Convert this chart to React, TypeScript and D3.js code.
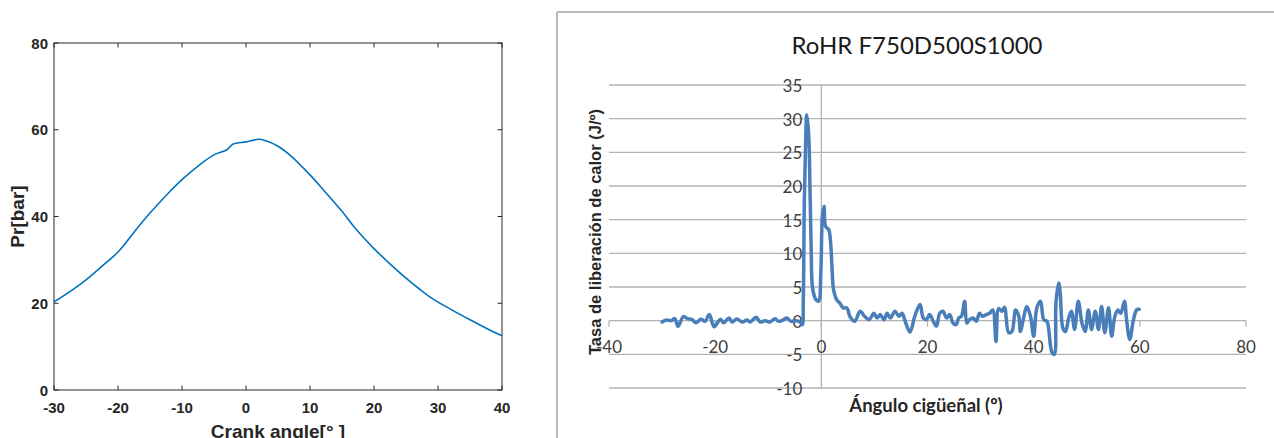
import * as d3 from "d3";
import { useRef, useEffect } from "react";

// left panel: cylinder pressure vs crank angle
const crank_angle = [-30, -27, -25, -22, -20, -17, -15, -12, -10, -7, -5, -3, -2, 0, 2, 3, 5, 7, 10, 12, 15, 17, 20, 23, 25, 27, 29, 32, 35, 38, 40];
const pressure_bar = [20.3, 23.2, 25.4, 29.2, 31.8, 37.3, 40.8, 45.6, 48.5, 52.2, 54.2, 55.4, 56.7, 57.2, 57.8, 57.5, 56.2, 54, 49.6, 46.3, 41.2, 37.4, 32.6, 28.4, 25.8, 23.4, 21.2, 18.6, 16.2, 13.9, 12.5];
const pr_x_ticks = [-30, -20, -10, 0, 10, 20, 30, 40];
const pr_y_ticks = [0, 20, 40, 60, 80];

// right panel: rate of heat release
const rohr_angle = [
  -30, -29.2, -28.3, -27.6, -27, -26, -25.2, -24.4, -23.6, -22.7, -21.9, -21.1, -20.2, -19, -18.4, -17.4,
  -16.8, -15.9, -14.9, -14, -13.4, -12.3, -11.5, -10.6, -9.7, -8.7, -8.1, -7.2, -6.5, -5.7, -4.8, -4,
  -3.6, -3.4, -3.2, -2.95, -2.75, -2.4, -2.1, -1.9, -1.7, -1.3, -1, -0.5, -0.1, 0.2, 0.5, 0.8, 1.4, 1.7,
  2, 2.3, 2.9, 3.5, 4.1, 4.8, 5.4, 6.3, 7.3, 8.2, 9, 9.9, 10.5, 11.1, 11.8, 12.4, 13, 13.9, 14.6, 15.2,
  15.8, 16.7, 17.6, 18.6, 19.2, 19.8, 20.4, 21.1, 21.7, 22.3, 22.9, 23.6, 24.2, 24.8, 25.4, 25.9, 26.4,
  27, 27.4, 27.9, 28.6, 29.2, 29.8, 30.4, 31.1, 31.7, 32.3, 32.9, 33.4, 34, 34.5, 35.3, 35.9, 36.6, 37.2,
  37.5, 38.1, 38.7, 39.4, 40, 40.6, 41.3, 41.9, 42.5, 43.4, 43.9, 44.2, 44.7, 45, 45.5, 46, 46.6, 47.1,
  47.7, 48.4, 49.1, 49.7, 50.3, 50.9, 51.6, 52.2, 52.8, 53.4, 54.1, 54.7, 55.3, 55.9, 56.4, 57.1, 57.5,
  58.1, 58.8, 59.4, 59.9,
];
const rohr_value = [
  -0.2, 0.1, 0, 0.3, -0.85, 0.6, 0.3, 0.2, -0.3, 0.2, -0.1, 0.9, -0.9, 0.2, -0.3, 0.4,
  -0.2, 0.25, -0.2, 0.1, -0.2, 0.5, -0.2, 0, -0.2, 0.3, -0.1, 0.1, 0.4, -0.1, 0, -0.2,
  -0.6, 3.1, 18, 27, 30.6, 27.9, 18, 10, 5.1, 3.6, 3.1, 2.9, 7.1, 15.5, 17, 14, 13.5, 12,
  8.1, 4.6, 3.1, 2.6, 1.9, 1.9, 0.6, -0.1, 1.4, 0.6, 0.15, 1.1, 0.4, 0.9, 0.15, 1.1, 0.4, 1.4, 0.65, 1.1,
  -0.1, -1.7, 0.65, 2.4, 0.4, 0.15, 0.9, -0.1, -0.8, 1.1, 1.4, 0.4, 0.9, -0.35, -0.6, 0.4, 0.65,
  2.9, -0.35, 0.15, 0.4, -0.1, 1.1, 0.65, 0.9, 1.1, 1.6, -3.1, 1.8, 1.4, 2, -1.8, -1.6, 1.6, 0.65,
  -1.6, 0.4, 2.1, 0.65, -2.3, 1.9, 2.9, 0.15, -0.1, -4.6, -5, 2.6, 5.6, 4.1, -1.1, -1.6, 0.4, 1.4,
  -1.3, 2.9, -0.35, -1.6, 1.6, -1.3, 1.4, -1.3, 2.1, -1.8, 1.9, -2.3, 0.65, 1.6, 1.1, 2.9, 0.15,
  -2.8, 0.15, 1.6, 1.7,
];
const rohr_x_ticks = [-40, -20, 0, 20, 40, 60, 80];
const rohr_y_ticks = [-10, -5, 0, 5, 10, 15, 20, 25, 30, 35];

const App = () => {
  const container = useRef(null);
  useEffect(() => {
    createChart();
  });

  const createChart = () => {
    let node = container.current;

    let svg = d3
      .select(node)
      .selectAll("svg")
      .data([0])
      .join("svg")
      .attr("width", 1274)
      .attr("height", 438)
      .style("position", "absolute")
      .style("left", 0)
      .style("top", 0)
      .style("background", "#fff");

    svg.selectAll("*").remove();

    // ---- left: matlab style pressure plot ----
    let pr = { l: 54, r: 502, t: 43, b: 390 };
    let ink = "#262626";

    let xPr = d3.scaleLinear().domain([-30, 40]).range([pr.l, pr.r]);
    let yPr = d3.scaleLinear().domain([0, 80]).range([pr.b, pr.t]);

    let left_g = svg.append("g").attr("class", "pr-g");

    left_g
      .append("rect")
      .attr("x", pr.l)
      .attr("y", pr.t)
      .attr("width", pr.r - pr.l)
      .attr("height", pr.b - pr.t)
      .attr("fill", "none")
      .attr("stroke", ink)
      .attr("stroke-width", 1);

    // inward ticks on all four sides
    let tick_len = 4.5;
    pr_x_ticks.forEach((t) => {
      left_g.append("line").attr("x1", xPr(t)).attr("x2", xPr(t)).attr("y1", pr.b).attr("y2", pr.b - tick_len).attr("stroke", ink);
      left_g.append("line").attr("x1", xPr(t)).attr("x2", xPr(t)).attr("y1", pr.t).attr("y2", pr.t + tick_len).attr("stroke", ink);
    });
    pr_y_ticks.forEach((t) => {
      left_g.append("line").attr("x1", pr.l).attr("x2", pr.l + tick_len).attr("y1", yPr(t)).attr("y2", yPr(t)).attr("stroke", ink);
      left_g.append("line").attr("x1", pr.r).attr("x2", pr.r - tick_len).attr("y1", yPr(t)).attr("y2", yPr(t)).attr("stroke", ink);
    });

    left_g
      .selectAll(".pr-xlabel")
      .data(pr_x_ticks)
      .join("text")
      .attr("class", "pr-xlabel")
      .attr("x", (d) => xPr(d))
      .attr("y", 413)
      .attr("text-anchor", "middle")
      .style("font-family", "'Liberation Sans', Arial, sans-serif")
      .style("font-weight", "bold")
      .style("font-size", "15px")
      .attr("fill", ink)
      .text((d) => d);

    left_g
      .selectAll(".pr-ylabel")
      .data(pr_y_ticks)
      .join("text")
      .attr("class", "pr-ylabel")
      .attr("x", pr.l - 6)
      .attr("y", (d) => yPr(d) + 5.5)
      .attr("text-anchor", "end")
      .style("font-family", "'Liberation Sans', Arial, sans-serif")
      .style("font-weight", "bold")
      .style("font-size", "15px")
      .attr("fill", ink)
      .text((d) => d);

    left_g
      .append("text")
      .attr("transform", `translate(24, ${(pr.t + pr.b) / 2}) rotate(-90)`)
      .attr("text-anchor", "middle")
      .style("font-family", "'Liberation Sans', Arial, sans-serif")
      .style("font-weight", "bold")
      .style("font-size", "19px")
      .attr("fill", ink)
      .text("Pr[bar]");

    // the reference crops this label at the bottom edge
    left_g
      .append("text")
      .attr("x", (pr.l + pr.r) / 2)
      .attr("y", 438)
      .attr("text-anchor", "middle")
      .style("font-family", "'Liberation Sans', Arial, sans-serif")
      .style("font-weight", "bold")
      .style("font-size", "19px")
      .attr("fill", ink)
      .text("Crank angle[° ]");

    let pressure = crank_angle.map((a, i) => ({ a: a, p: pressure_bar[i] }));
    left_g
      .append("path")
      .datum(pressure)
      .attr("fill", "none")
      .attr("stroke", "#0072BD")
      .attr("stroke-width", 1.6)
      .attr(
        "d",
        d3
          .line()
          .curve(d3.curveCatmullRom.alpha(0.5))
          .x((d) => xPr(d.a))
          .y((d) => yPr(d.p))
      );

    // ---- right: excel style RoHR plot ----
    let frame = "#a6a6a6";
    let grid = "#b3b3b3";
    let label_ink = "#404040";

    let right_g = svg.append("g").attr("class", "rohr-g");

    right_g.append("line").attr("x1", 557).attr("x2", 1274).attr("y1", 12).attr("y2", 12).attr("stroke", frame).attr("stroke-width", 1.5);
    right_g.append("line").attr("x1", 557).attr("x2", 557).attr("y1", 12).attr("y2", 438).attr("stroke", frame).attr("stroke-width", 1.5);

    let xR = d3.scaleLinear().domain([-40, 80]).range([609, 1246]);
    let yR = d3.scaleLinear().domain([-10, 35]).range([388, 85]);

    right_g
      .selectAll(".rohr-grid")
      .data(rohr_y_ticks)
      .join("line")
      .attr("class", "rohr-grid")
      .attr("x1", xR(-40))
      .attr("x2", xR(80))
      .attr("y1", (d) => yR(d))
      .attr("y2", (d) => yR(d))
      .attr("stroke", grid)
      .attr("stroke-width", 1.3);

    // vertical axis through x = 0
    right_g
      .append("line")
      .attr("x1", xR(0))
      .attr("x2", xR(0))
      .attr("y1", yR(35))
      .attr("y2", yR(-10))
      .attr("stroke", grid)
      .attr("stroke-width", 1.3);

    right_g
      .selectAll(".rohr-xtick")
      .data(rohr_x_ticks)
      .join("line")
      .attr("class", "rohr-xtick")
      .attr("x1", (d) => xR(d))
      .attr("x2", (d) => xR(d))
      .attr("y1", yR(0))
      .attr("y2", yR(0) + 6)
      .attr("stroke", grid)
      .attr("stroke-width", 1.3);

    right_g
      .selectAll(".rohr-xlabel")
      .data(rohr_x_ticks)
      .join("text")
      .attr("class", "rohr-xlabel")
      .attr("x", (d) => xR(d))
      .attr("y", yR(0) + 32)
      .attr("text-anchor", "middle")
      .style("font-family", "Lato, 'Open Sans', sans-serif")
      .style("font-size", "17px")
      .attr("fill", label_ink)
      .text((d) => d);

    right_g
      .selectAll(".rohr-ylabel")
      .data(rohr_y_ticks)
      .join("text")
      .attr("class", "rohr-ylabel")
      .attr("x", xR(0) - 19)
      .attr("y", (d) => yR(d) + 7)
      .attr("text-anchor", "end")
      .style("font-family", "Lato, 'Open Sans', sans-serif")
      .style("font-size", "17px")
      .attr("fill", label_ink)
      .text((d) => d);

    right_g
      .append("text")
      .attr("x", 917)
      .attr("y", 54)
      .attr("text-anchor", "middle")
      .style("font-family", "Lato, 'Open Sans', sans-serif")
      .style("font-size", "24px")
      .attr("fill", "#1a1a1a")
      .text("RoHR F750D500S1000");

    right_g
      .append("text")
      .attr("transform", `translate(601, 232) rotate(-90)`)
      .attr("text-anchor", "middle")
      .style("font-family", "'Liberation Sans', Arial, sans-serif")
      .style("font-weight", "bold")
      .style("font-size", "16.5px")
      .attr("fill", ink)
      .text("Tasa de liberación de calor (J/º)");

    right_g
      .append("text")
      .attr("x", 926)
      .attr("y", 412)
      .attr("text-anchor", "middle")
      .style("font-family", "Lato, 'Open Sans', sans-serif")
      .style("font-weight", "bold")
      .style("font-size", "18.5px")
      .attr("fill", ink)
      .text("Ángulo cigüeñal (º)");

    let rohr = rohr_angle.map((a, i) => ({ a: a, v: rohr_value[i] }));
    right_g
      .append("path")
      .datum(rohr)
      .attr("fill", "none")
      .attr("stroke", "#4a7ebb")
      .attr("stroke-width", 3.5)
      .attr("stroke-linejoin", "round")
      .attr("stroke-linecap", "round")
      .attr(
        "d",
        d3
          .line()
          .curve(d3.curveCatmullRom.alpha(0.5))
          .x((d) => xR(d.a))
          .y((d) => yR(d.v))
      );

    return;
  };

  return <div ref={container}></div>;
};

export default App;
